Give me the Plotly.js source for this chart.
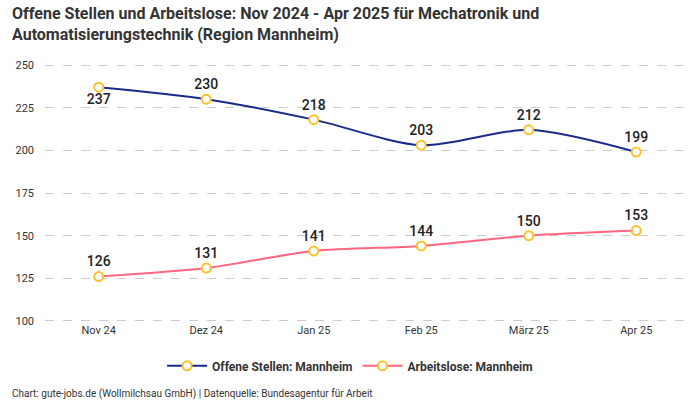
<!DOCTYPE html>
<html><head><meta charset="utf-8">
<script src="https://cdn.plot.ly/plotly-3.0.1.min.js"></script>
<style>html,body{margin:0;padding:0;background:#fff}#c{width:700px;height:400px}</style>
</head><body><div id="c"></div>
<script>
const months = ["Nov 24","Dez 24","Jan 25","Feb 25","März 25","Apr 25"];
const offeneStellen = [237,230,218,203,212,199];
const arbeitslose = [126,131,141,144,150,153];
const offenePos = ["bottom center","top center","top center","top center","top center","top center"];
const arbeitslosePos = ["top center","top center","top center","top center","top center","top center"];
const yTicks = [100,125,150,175,200,225,250];

const marker = {size:9, color:"#ffffff", line:{color:"#f7c22a", width:2}};
const txtFont = {family:"Roboto, 'Noto Sans', sans-serif", size:14, color:"#222", weight:500};
const traces = [
  {x:months, y:offeneStellen, name:"Offene Stellen: Mannheim", type:"scatter", mode:"lines+markers+text",
   line:{color:"#1b2a8a", width:2, shape:"spline", smoothing:0.8}, marker:marker,
   text:offeneStellen.map(String), textposition:offenePos, textfont:txtFont, cliponaxis:false},
  {x:months, y:arbeitslose, name:"Arbeitslose: Mannheim", type:"scatter", mode:"lines+markers+text",
   line:{color:"#ff6680", width:2, shape:"spline", smoothing:0.8}, marker:marker,
   text:arbeitslose.map(String), textposition:arbeitslosePos, textfont:txtFont, cliponaxis:false}
];
const layout = {
  width:700, height:400,
  margin:{l:45, r:10, t:64, b:78},
  paper_bgcolor:"#fff", plot_bgcolor:"#fff",
  font:{family:"Roboto, 'Noto Sans', sans-serif", color:"#333", size:11},
  xaxis:{type:"category", range:[-0.5,5.5], showgrid:false, zeroline:false, showline:false, ticks:"",
    tickfont:{size:11, color:"#333"}, fixedrange:true, tickangle:0, automargin:false},
  yaxis:{range:[99.4,250.6], tickvals:yTicks, showgrid:true, gridcolor:"#cccccc", griddash:"dash", gridwidth:1,
    zeroline:false, showline:false, ticks:"", tickfont:{size:11, color:"#333"}, ticklabelstandoff:10, automargin:false},
  showlegend:true,
  legend:{orientation:"h", x:0.473, xanchor:"center", y:-0.17, yanchor:"middle",
    font:{size:12, color:"#333", weight:700}, itemwidth:40, tracegroupgap:0},
  annotations:[
   {text:"Offene Stellen und Arbeitslose: Nov 2024 - Apr 2025 für Mechatronik und<br>Automatisierungstechnik (Region Mannheim)",
    xref:"paper", yref:"paper", x:-0.054, xanchor:"left", y:1.24, yanchor:"top", align:"left", showarrow:false,
    font:{family:"Roboto, 'Noto Sans', sans-serif", size:16, color:"#333", weight:700}},
   {text:"Chart: gute-jobs.de (Wollmilchsau GmbH) | Datenquelle: Bundesagentur für Arbeit",
    xref:"paper", yref:"paper", x:-0.054, xanchor:"left", y:-0.28, yanchor:"middle", showarrow:false,
    font:{size:10, color:"#333"}}]
};
Plotly.newPlot("c", traces, layout, {displayModeBar:false, staticPlot:true});
</script></body></html>
